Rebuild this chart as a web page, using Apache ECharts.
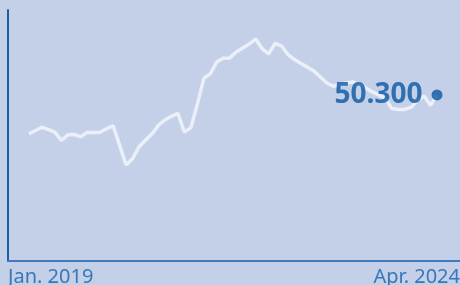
<!DOCTYPE html>
<html>
<head>
<meta charset="utf-8">
<script src="https://cdn.jsdelivr.net/npm/echarts@6/dist/echarts.min.js"></script>
<style>
  html, body { margin: 0; padding: 0; background: #c4d0e7; }
  #chart { width: 460px; height: 285px; }
</style>
</head>
<body>
<div id="chart"></div>
<script>
// monthly values, Jan. 2019 .. Apr. 2024
var values = [
  38.5, 39.5, 40.5, 39.8, 39.0, 36.5, 38.2, 38.3, 37.6, 39.0, 38.9, 39.0,
  40.1, 40.9, 35.0, 29.1, 31.0, 34.6, 36.6, 38.5, 41.1, 42.7, 43.8, 44.7,
  39.0, 40.4, 47.5, 55.3, 56.7, 60.3, 61.4, 61.5, 63.3, 64.5, 65.7, 67.2,
  64.3, 62.7, 65.9, 65.1, 62.5, 61.0, 59.8, 58.7, 57.5, 55.7, 53.9, 52.9,
  53.5, 53.9, 54.2, 53.5, 52.4, 51.2, 50.3, 49.3, 46.2, 45.9, 45.9, 46.5,
  48.6, 50.0, 47.1, 50.3
];
var tickLabels = ['Jan. 2019', 'Apr. 2024'];
var lastLabel = '50.300';

var xMin = -3.24, xMax = 66.55;

var lineData = values.map(function (v, i) { return [i, v]; });
var last = values.length - 1;

var chart = echarts.init(document.getElementById('chart'));
chart.setOption({
  backgroundColor: '#c4d0e7',
  animation: false,
  grid: { left: 8, right: 0, top: 10, bottom: 24, outerBoundsMode: 'none', containLabel: false },
  xAxis: {
    type: 'value',
    min: xMin,
    max: xMax,
    splitLine: { show: false },
    axisTick: { show: false },
    axisLine: { show: true, onZero: false, lineStyle: { color: '#3f7cbf', width: 2 } },
    axisLabel: {
      customValues: [xMin, xMax],
      alignMinLabel: 'left',
      alignMaxLabel: 'right',
      margin: 6,
      color: '#3777bb',
      fontFamily: 'Noto Sans',
      fontSize: 20,
      formatter: function (v) { return v === xMin ? tickLabels[0] : tickLabels[1]; }
    }
  },
  yAxis: {
    type: 'value',
    min: 0,
    max: 76,
    splitLine: { show: false },
    axisTick: { show: false },
    axisLabel: { show: false },
    axisLine: { show: true, onZero: false, lineStyle: { color: '#1c5fa8', width: 2 } }
  },
  series: [{
    type: 'line',
    z: 2,
    data: lineData,
    showSymbol: false,
    lineStyle: { color: '#eaeff8', width: 3.5 }
  }, {
    type: 'scatter',
    z: 10,
    zlevel: 1,
    data: [[last, values[last]]],
    symbolSize: 11,
    itemStyle: { color: '#0b57a4' },
    label: {
      show: true,
      position: 'left',
      distance: 9,
      formatter: lastLabel,
      color: '#0b57a4',
      fontFamily: 'Noto Sans',
      fontWeight: 'bold',
      fontSize: 28
    }
  }]
});
</script>
</body>
</html>
